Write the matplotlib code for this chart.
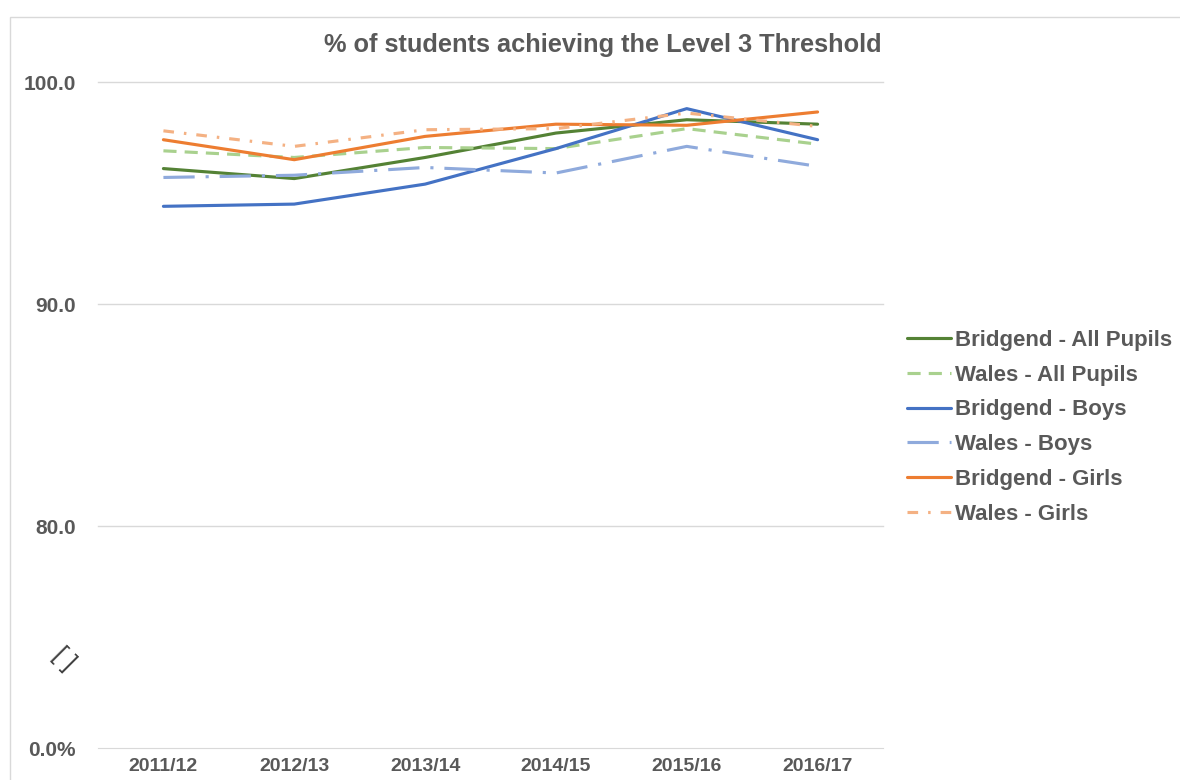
import matplotlib
matplotlib.use("Agg")
import matplotlib.pyplot as plt
from matplotlib.patches import Rectangle

plt.rcParams['font.family'] = ['Liberation Sans', 'DejaVu Sans']

years = ["2011/12", "2012/13", "2013/14", "2014/15", "2015/16", "2016/17"]
bridgend_all = [96.1, 95.65, 96.6, 97.7, 98.3, 98.1]
wales_all = [96.9, 96.6, 97.05, 97.0, 97.9, 97.2]
bridgend_boys = [94.4, 94.5, 95.4, 97.0, 98.8, 97.4]
wales_boys = [95.7, 95.8, 96.15, 95.9, 97.1, 96.2]
bridgend_girls = [97.4, 96.5, 97.55, 98.1, 98.05, 98.65]
wales_girls = [97.8, 97.1, 97.85, 97.9, 98.6, 98.0]

yticks = [70, 80, 90, 100]
ytick_labels = ["0.0%", "80.0", "90.0", "100.0"]

TXT = "#595959"

fig = plt.figure(figsize=(11.8, 7.8), dpi=100)
ax = fig.add_axes([98/1180, 1 - 748/780, (883-98)/1180, (748-82)/780])

# chart border
fig.patches.append(Rectangle((10/1180, -0.01), 1.2, 1 - 17/780 + 0.01,
                             transform=fig.transFigure, fill=False,
                             edgecolor="#d9d9d9", linewidth=1.0))

x = range(len(years))
lw = 2.25
ax.plot(x, bridgend_all, color="#548235", lw=lw, label="Bridgend - All Pupils", solid_capstyle="round")
ax.plot(x, wales_all, color="#A9D18E", lw=lw, dashes=(4.2, 2.6), label="Wales - All Pupils")
ax.plot(x, bridgend_boys, color="#4472C4", lw=lw, label="Bridgend - Boys", solid_capstyle="round")
ax.plot(x, wales_boys, color="#8FAADC", lw=lw, dashes=(10, 3.5, 1, 3.5), label="Wales - Boys")
ax.plot(x, bridgend_girls, color="#ED7D31", lw=lw, label="Bridgend - Girls", solid_capstyle="round")
ax.plot(x, wales_girls, color="#F4B183", lw=lw, dashes=(3.4, 3.2, 0.8, 3.2), label="Wales - Girls")

ax.set_xlim(-0.5, len(years) - 0.5)
ax.set_ylim(70, 100)
ax.set_yticks(yticks)
ax.set_yticklabels(ytick_labels)
ax.set_xticks(list(x))
ax.set_xticklabels(years)
for y in [80, 90, 100]:
    ax.axhline(y, color="#d9d9d9", lw=1.0, zorder=0, clip_on=False)
for s in ["top", "right", "left"]:
    ax.spines[s].set_visible(False)
ax.spines["bottom"].set_color("#d9d9d9")
ax.tick_params(axis="both", length=0, colors=TXT)
ax.tick_params(axis="y", pad=16, labelsize=15)
ax.tick_params(axis="x", pad=7, labelsize=14)
for lab in ax.get_xticklabels() + ax.get_yticklabels():
    lab.set_fontweight("bold")
    lab.set_color(TXT)

# axis break symbol
ax.text(-0.76, 74.0, "[ ]", rotation=-45, ha="center", va="center",
        fontsize=18, color="#404040", transform=ax.transData, clip_on=False)

fig.text(603/1180, 1 - 45/780, "% of students achieving the Level 3 Threshold",
         ha="center", va="center", fontsize=18.3, fontweight="bold", color=TXT)

leg = ax.legend(loc="upper left", bbox_to_anchor=(898/1180, 1 - 321/780),
                bbox_transform=fig.transFigure, frameon=False,
                prop={"size": 16, "weight": "bold"}, handlelength=2.0,
                handletextpad=0.15, labelspacing=0.62, borderaxespad=0)
for t in leg.get_texts():
    t.set_color(TXT)

fig.savefig("out.png", dpi=100)
